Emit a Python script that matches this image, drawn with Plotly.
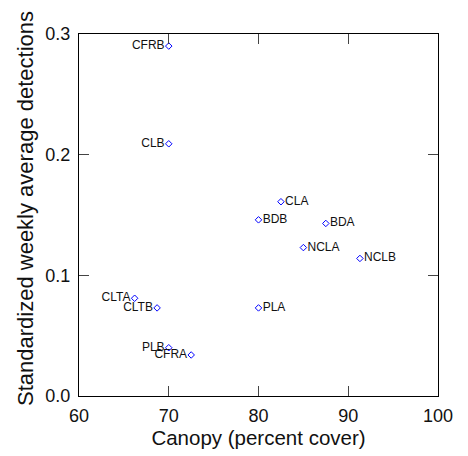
import plotly.graph_objects as go

sites = ["CFRB", "CLB", "CLA", "BDB", "BDA", "NCLA", "NCLB", "CLTA", "CLTB", "PLA", "PLB", "CFRA"]
canopy = [70.0, 70.0, 82.5, 80.0, 87.5, 85.0, 91.3, 66.2, 68.7, 80.0, 70.0, 72.5]
detections = [0.290, 0.209, 0.161, 0.146, 0.143, 0.123, 0.114, 0.081, 0.073, 0.073, 0.040, 0.034]
label_side = ["middle left", "middle left", "middle right", "middle right", "middle right", "middle right",
              "middle right", "middle left", "middle left", "middle right", "middle left", "middle left"]

x_ticks = [60, 70, 80, 90, 100]
x_ticktext = ["60", "70", "80", "90", "100"]
y_ticks = [0, 0.1, 0.2, 0.3]
y_ticktext = ["0.0", "0.1", "0.2", "0.3"]

FONT = "Arial, Liberation Sans, Helvetica, sans-serif"

fig = go.Figure()
fig.add_trace(go.Scatter(
    x=canopy, y=detections, mode="markers+text",
    text=sites, textposition=label_side,
    textfont=dict(family=FONT, size=12, color="#111"),
    marker=dict(symbol="diamond-open", size=5, color="#0000ff", line=dict(width=1, color="#0000ff")),
    showlegend=False, cliponaxis=False,
))

axis_common = dict(
    showgrid=False, zeroline=False, showline=True, linecolor="black", linewidth=1,
    mirror="ticks", ticks="inside", ticklen=10, tickcolor="#444", tickwidth=1,
    tickfont=dict(family=FONT, size=18, color="#111"),
)
fig.update_xaxes(range=[60, 100], tickvals=x_ticks, ticktext=x_ticktext, ticklabelstandoff=3,
                 title=dict(text="Canopy (percent cover)", font=dict(family=FONT, size=20.5, color="#111"), standoff=2),
                 **axis_common)
fig.update_yaxes(range=[0, 0.3], tickvals=y_ticks, ticktext=y_ticktext, ticklabelstandoff=4,
                 **axis_common)

# y-axis title (slightly above the plot centre, as in the reference)
W_PLOT = 468 - 79 - 30
H_PLOT = 456 - 34 - 60
fig.add_annotation(
    text="Standardized weekly average detections", textangle=-90,
    xref="paper", yref="paper",
    x=(25.5 - 79) / W_PLOT, y=(396 - 208.5) / H_PLOT,
    xanchor="center", yanchor="middle", showarrow=False,
    font=dict(family=FONT, size=22, color="#111"),
)
fig.update_layout(
    width=468, height=456, margin=dict(l=79, r=30, t=34, b=60, autoexpand=False),
    plot_bgcolor="white", paper_bgcolor="white",
)
fig.write_html("out.html")
